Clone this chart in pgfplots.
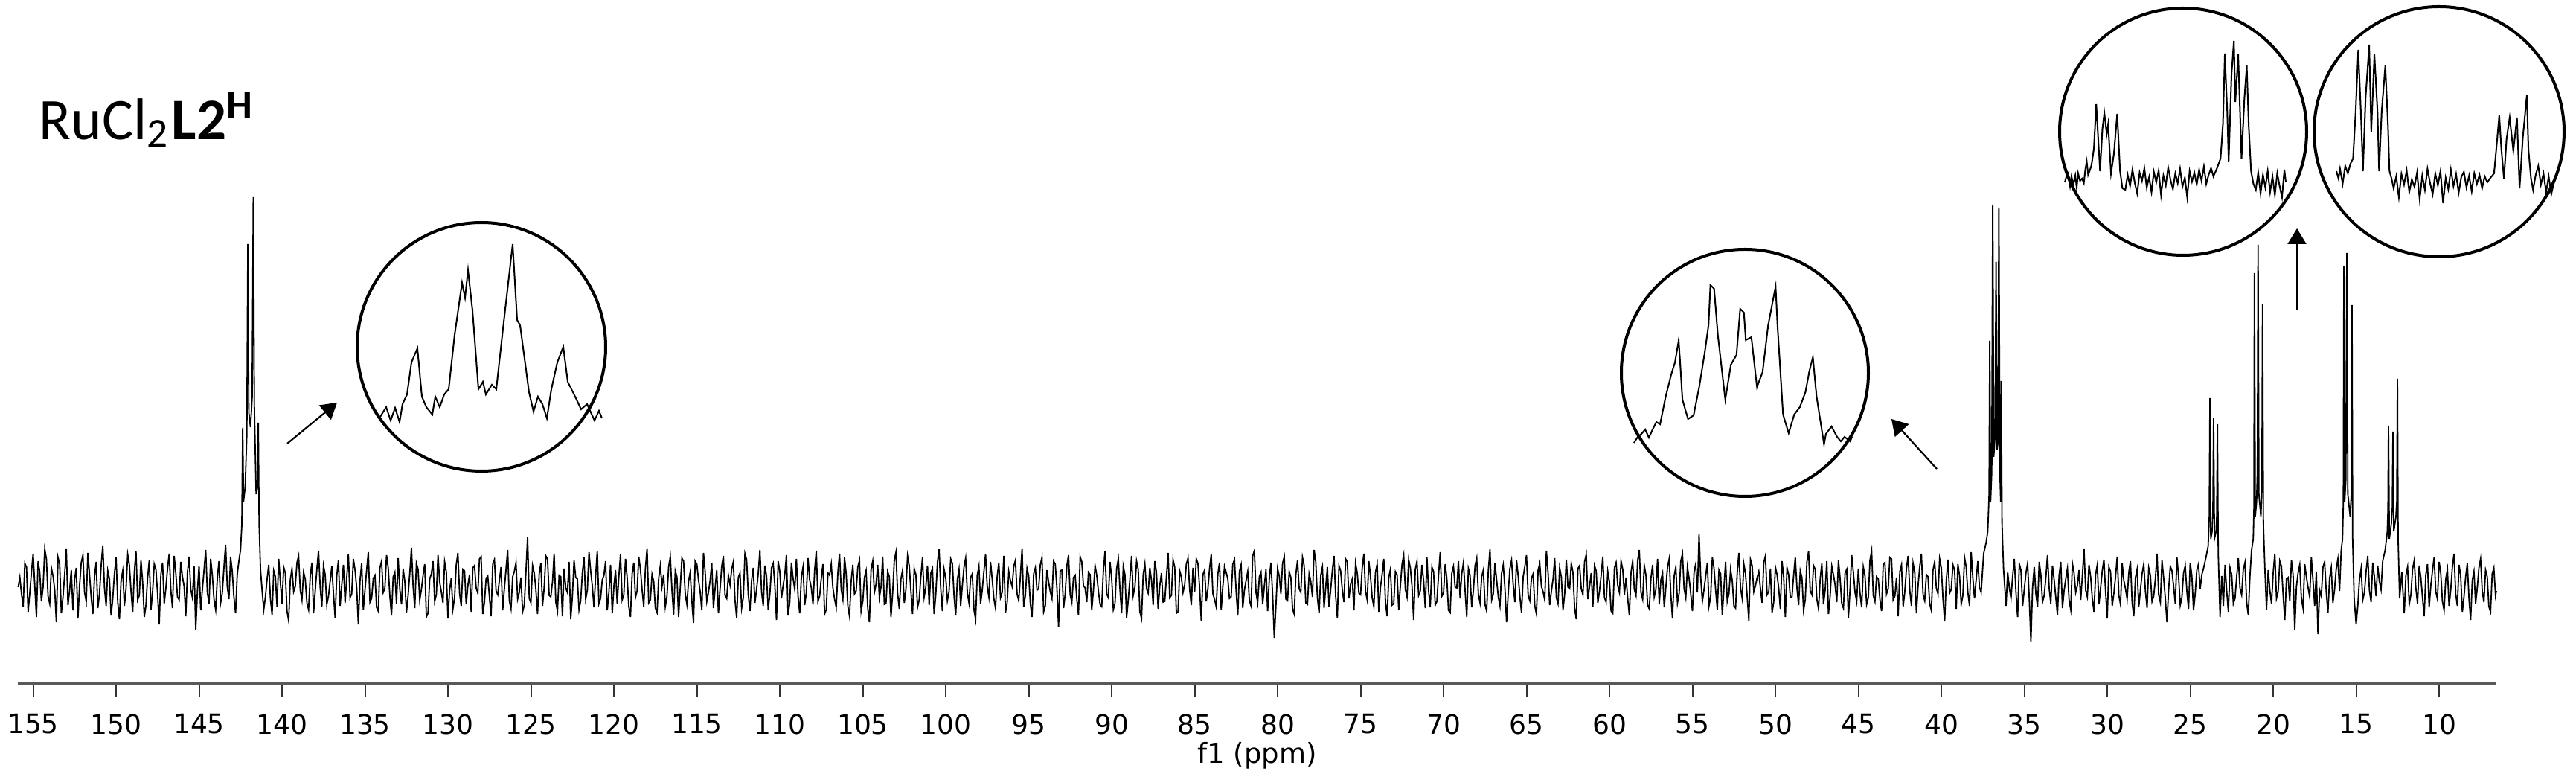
\documentclass[border=0pt]{standalone}
\usepackage{pgfplots}
\pgfplotsset{compat=1.18}
\usepackage{fontspec}
\setmainfont{DejaVu Sans}
\newfontfamily\ticksfont{DejaVu Sans}
\newfontfamily\titlefont{Carlito}
\usetikzlibrary{arrows.meta}
\pgfplotsset{inset/.style={scale only axis, anchor=south west, hide axis, x dir=reverse, clip=false}}
\begin{document}
\begin{tikzpicture}
\useasboundingbox (0,0) rectangle (346.2pt,104.4pt);
\begin{axis}[
  at={(2.45pt,12.6pt)}, anchor=south west,
  scale only axis, width=333.05pt, height=66.8pt,
  xmin=6.55, xmax=155.9, ymin=-134, ymax=534,
  x dir=reverse,
  axis x line*=bottom, hide y axis,
  axis line style={line width=0.33pt, draw=black!65, -},
  xtick={10,15,...,155},
  tick align=outside, major tick length=1.8pt,
  tick style={line width=0.2pt, draw=black!80},
  xticklabel style={font=\ticksfont\fontsize{3.6}{4}\selectfont, yshift=1.2pt},
  /pgf/number format/assume math mode=true,
  xlabel={f1 (ppm)},
  xlabel style={font=\ticksfont\fontsize{3.7}{4}\selectfont, at={(axis description cs:0.5,0)}, anchor=north, inner sep=0pt, yshift=-7.7pt},
  clip=false,
]
\addplot[black, line width=0.18pt] coordinates {
(155.9,-5)(155.8,8)(155.7,-14)(155.6,-31)(155.5,27)(155.4,22)(155.3,-38)(155.2,-12)(155.1,15)(155.0,40)(154.9,-3)
(154.8,-45)(154.7,30)(154.6,15)(154.5,-24)(154.4,-5)(154.3,46)(154.2,33)(154.1,-17)(154.0,-27)(153.9,21)
(153.8,10)(153.7,-8)(153.6,-52)(153.5,35)(153.4,26)(153.3,-40)(153.2,-18)(153.1,12)(153.0,47)(152.9,-29)
(152.8,-9)(152.7,18)(152.6,-36)(152.5,5)(152.4,21)(152.3,-47)(152.2,-3)(152.1,28)(152.0,38)(151.9,-12)
(151.8,-24)(151.7,41)(151.6,12)(151.5,-19)(151.4,-41)(151.3,9)(151.2,29)(151.1,-33)(151.0,-14)(150.9,24)
(150.8,51)(150.7,-6)(150.6,-30)(150.5,17)(150.4,6)(150.3,-43)(150.2,-20)(150.1,13)(150.0,35)(149.9,-25)
(149.8,-48)(149.7,4)(149.6,17)(149.5,-30)(149.4,-7)(149.3,39)(149.2,25)(149.1,-10)(149.0,-38)(148.9,16)
(148.8,43)(148.7,-22)(148.6,-16)(148.5,31)(148.4,2)(148.3,-45)(148.2,-29)(148.1,8)(148.0,31)(147.9,-35)
(147.8,-11)(147.7,26)(147.6,19)(147.5,-14)(147.4,-55)(147.3,12)(147.2,28)(147.1,-27)(147.0,-6)(146.9,20)
(146.8,40)(146.7,-9)(146.6,-33)(146.5,37)(146.4,14)(146.3,-18)(146.2,-22)(146.1,29)(146.0,9)(145.9,-4)
(145.8,-44)(145.7,15)(145.6,36)(145.5,-8)(145.4,-19)(145.3,23)(145.2,-62)(145.1,-11)(145.0,24)(144.9,-36)
(144.8,-8)(144.7,18)(144.6,45)(144.5,-12)(144.4,-27)(144.3,33)(144.2,11)(144.1,-21)(144.0,-35)(143.9,7)
(143.8,30)(143.7,-26)(143.6,-13)(143.5,22)(143.4,52)(143.3,-4)(143.2,-21)(143.1,36)(143.0,16)(142.9,-18)
(142.8,-40)
(142.7,12)(142.6,30)(142.5,45)(142.42,80)(142.37,209)(142.32,110)(142.22,130)(142.12,200)(142.06,456)(142.0,230)
(141.9,210)(141.8,250)(141.73,519)(141.67,240)(141.56,120)(141.48,130)(141.43,216)(141.38,80)(141.3,20)(141.2,-10)(141.1,-35)
(141.0,-18)(140.9,6)(140.8,25)(140.7,-20)(140.6,-42)(140.5,17)(140.4,9)(140.3,-31)(140.2,33)(140.1,2)(140.0,-27)(139.9,22)(139.8,14)(139.7,-37)(139.6,-50)(139.5,5)(139.4,20)(139.3,-11)(139.2,-4)(139.1,28)
(139.0,37)(138.9,-9)(138.8,-22)(138.7,15)(138.6,6)(138.5,-26)(138.4,-35)(138.3,10)(138.2,28)(138.1,-40)(138.0,-10)(137.9,19)(137.8,44)(137.7,-5)(137.6,-31)(137.5,24)(137.4,12)(137.3,-28)(137.2,-17)(137.1,3)
(137.0,23)(136.9,-14)(136.8,-46)(136.7,11)(136.6,31)(136.5,-30)(136.4,-2)(136.3,25)(136.2,-26)(136.1,8)(136.0,39)(135.9,-19)(135.8,-14)(135.7,33)(135.6,18)(135.5,-6)(135.4,-55)(135.3,4)(135.2,27)(135.1,-35)
(135.0,-9)(134.9,18)(134.8,42)(134.7,-25)(134.6,-20)(134.5,7)(134.4,11)(134.3,-32)(134.2,-37)(134.1,21)(134.0,30)(133.9,-12)(133.8,-6)(133.7,38)(133.6,21)(133.5,-17)(133.4,-43)(133.3,9)(133.2,15)(133.1,-27)
(133.0,34)(132.9,-8)(132.8,-28)(132.7,20)(132.6,3)(132.5,-39)(132.4,-16)(132.3,14)(132.2,48)(132.1,-3)(132.0,-33)(131.9,27)(131.8,19)(131.7,-22)(131.6,-8)(131.5,11)(131.4,26)(131.3,-45)(131.2,-40)(131.1,6)
(131.0,13)(130.9,30)(130.8,-24)(130.7,-15)(130.6,38)(130.5,2)(130.4,-11)(130.3,-26)(130.2,29)(130.1,16)(130.0,-47)(129.9,-9)(129.8,7)(129.7,-34)(129.6,-19)(129.5,25)(129.4,41)(129.3,-13)(129.2,-30)(129.1,19)
(129.0,17)(128.9,-28)(128.8,-3)(128.7,12)(128.6,-38)(128.5,21)(128.4,24)(128.3,-6)(128.2,-13)(128.1,33)(128.0,36)(127.9,-41)(127.8,-25)(127.7,7)(127.6,10)(127.5,-18)(127.4,-44)(127.3,26)(127.2,32)(127.1,-10)
(127.0,-15)(126.9,4)(126.8,22)(126.7,-36)(126.6,-7)(126.5,19)(126.4,45)(126.3,-23)(126.2,-34)(126.1,9)(126.0,16)(125.9,28)(125.8,-21)(125.7,-12)(125.6,8)(125.5,-38)(125.4,-29)(125.3,15)(125.2,62)(125.1,-20)
(125.0,-26)(124.9,24)(124.8,14)(124.7,-8)(124.6,-41)(124.5,13)(124.4,27)(124.3,-30)(124.2,-5)(124.1,37)(124.0,33)(123.9,-16)(123.8,-18)(123.7,2)(123.6,40)(123.5,-25)(123.4,-37)(123.3,11)(123.2,9)(123.1,-44)
(123.0,20)(122.9,-6)(122.8,-12)(122.7,29)(122.6,-48)(122.5,-17)(122.4,31)(122.3,8)(122.2,6)(122.1,-35)(122.0,-23)(121.9,14)(121.8,35)(121.7,-21)(121.6,-9)(121.5,42)(121.4,17)(121.3,-3)(121.2,-32)(121.1,10)
(121.0,43)(120.9,-27)(120.8,-20)(120.7,5)(120.6,11)(120.5,30)(120.4,-36)(120.3,-12)(120.2,25)(120.1,-40)(120.0,-4)(119.9,18)(119.8,-27)(119.7,9)(119.6,39)(119.5,-22)(119.4,-15)(119.3,33)(119.2,8)(119.1,-31)
(119.0,-45)(118.9,13)(118.8,28)(118.7,-19)(118.6,-10)(118.5,36)(118.4,19)(118.3,-8)(118.2,-31)(118.1,20)(118.0,47)(117.9,-26)(117.8,-22)(117.7,12)(117.6,3)(117.5,-33)(117.4,-39)(117.3,7)(117.2,24)(117.1,-4)
(117.0,12)(116.9,-31)(116.8,-17)(116.7,22)(116.6,36)(116.5,-9)(116.4,-42)(116.3,17)(116.2,9)(116.1,-45)(116.0,-6)(115.9,34)(115.8,30)(115.7,-14)(115.6,-28)(115.5,3)(115.4,15)(115.3,-24)(115.2,-53)(115.1,30)
(115.0,26)(114.9,5)(114.8,-11)(114.7,-36)(114.6,41)(114.5,16)(114.4,-24)(114.3,-12)(114.2,4)(114.1,27)(114.0,-33)(113.9,-7)(113.8,18)(113.7,-40)(113.6,-7)(113.5,23)(113.4,37)(113.3,-16)(113.2,-20)(113.1,11)
(113.0,-2)(112.9,19)(112.8,29)(112.7,-22)(112.6,-46)(112.5,8)(112.4,14)(112.3,-33)(112.2,-19)(112.1,40)(112.0,32)(111.9,-15)(111.8,-37)(111.7,4)(111.6,21)(111.5,-26)(111.4,-8)(111.3,13)(111.2,45)(111.1,-11)
(111.0,-30)(110.9,24)(110.8,10)(110.7,-35)(110.6,-14)(110.5,21)(110.4,27)(110.3,-2)(110.2,-49)(110.1,30)(110.0,16)(109.9,-20)(109.8,-3)(109.7,12)(109.6,38)(109.5,-43)(109.4,-25)(109.3,28)(109.2,7)(109.1,-8)
(109.0,33)(108.9,-17)(108.8,-40)(108.7,9)(108.6,22)(108.5,-29)(108.4,-12)(108.3,34)(108.2,5)(108.1,-6)(108.0,-28)(107.9,18)(107.8,44)(107.7,-24)(107.6,-17)(107.5,7)(107.4,26)(107.3,-41)(107.2,-35)(107.1,14)
(107.0,11)(106.9,26)(106.8,-6)(106.7,-21)(106.6,-32)(106.5,15)(106.4,40)(106.3,-8)(106.2,-21)(106.1,35)(106.0,13)(105.9,-30)(105.8,-44)(105.7,3)(105.6,25)(105.5,-14)(105.4,-10)(105.3,22)(105.2,31)(105.1,-37)
(105.0,-24)(104.9,8)(104.8,17)(104.7,-33)(104.6,-52)(104.5,19)(104.4,30)(104.3,-12)(104.2,-1)(104.1,25)(104.0,-19)(103.9,-5)(103.8,36)(103.7,-28)(103.6,-27)(103.5,16)(103.4,9)(103.3,-45)(103.2,-13)(103.1,31)
(103.0,42)(102.9,-13)(102.8,-34)(102.7,6)(102.6,18)(102.5,-26)(102.4,-8)(102.3,37)(102.2,24)(102.1,-10)(102.0,-41)(101.9,20)(101.8,12)(101.7,-32)(101.6,-22)(101.5,9)(101.4,35)(101.3,-18)(101.2,-5)(101.1,24)
(101.0,-29)(100.9,14)(100.8,20)(100.7,-41)(100.6,-15)(100.5,28)(100.4,46)(100.3,-7)(100.2,-37)(100.1,19)(100.0,8)(99.9,-23)(99.8,-11)(99.7,33)(99.6,27)(99.5,-16)(99.4,-43)(99.3,5)(99.2,19)(99.1,-30)
(99.0,-3)(98.9,22)(98.8,34)(98.7,-12)(98.6,-26)(98.5,8)(98.4,13)(98.3,-35)(98.2,-48)(98.1,11)(98.0,23)(97.9,-27)(97.8,-9)(97.7,16)(97.6,39)(97.5,-4)(97.4,-18)(97.3,29)(97.2,6)(97.1,-20)
(97.0,-33)(96.9,9)(96.8,28)(96.7,-19)(96.6,-12)(96.5,37)(96.4,-39)(96.3,-26)(96.2,16)(96.1,4)(96.0,-4)(95.9,23)(95.8,31)(95.7,-14)(95.6,-23)(95.5,10)(95.4,47)(95.3,-31)(95.2,-16)(95.1,20)
(95.0,10)(94.9,-27)(94.8,-45)(94.7,13)(94.6,21)(94.5,-9)(94.4,-7)(94.3,25)(94.2,35)(94.1,-38)(94.0,-30)(93.9,18)(93.8,2)(93.7,-11)(93.6,-20)(93.5,30)(93.4,26)(93.3,-6)(93.2,-58)(93.1,17)
(93.0,18)(92.9,-33)(92.8,-14)(92.7,24)(92.6,38)(92.5,-15)(92.4,-25)(92.3,8)(92.2,11)(92.1,-21)(92.0,-42)(91.9,36)(91.8,29)(91.7,-3)(91.6,-6)(91.5,-25)(91.4,15)(91.3,12)(91.2,-36)(91.1,-9)
(91.0,24)(90.9,11)(90.8,-10)(90.7,-28)(90.6,-31)(90.5,17)(90.4,43)(90.3,-14)(90.2,-19)(90.1,29)(90.0,7)(89.9,-35)(89.8,-27)(89.7,20)(89.6,33)(89.5,-8)(89.4,-40)(89.3,23)(89.2,12)(89.1,-46)
(89.0,-22)(88.9,6)(88.8,37)(88.7,-16)(88.6,-5)(88.5,30)(88.4,19)(88.3,-38)(88.2,-47)(88.1,12)(88.0,26)(87.9,-7)(87.8,-13)(87.7,21)(87.6,4)(87.5,-29)(87.4,30)(87.3,15)(87.2,-34)(87.1,-3)
(87.0,14)(86.9,-25)(86.8,-24)(86.7,9)(86.6,41)(86.5,-19)(86.4,-16)(86.3,32)(86.2,22)(86.1,-40)(86.0,-38)(85.9,17)(85.8,9)(85.7,-12)(85.6,-2)(85.5,26)(85.4,34)(85.3,-8)(85.2,-29)(85.1,21)
(85.0,-11)(84.9,33)(84.8,27)(84.7,-6)(84.6,-50)(84.5,12)(84.4,18)(84.3,-24)(84.2,-7)(84.1,20)(84.0,39)(83.9,-14)(83.8,-21)(83.7,-31)(83.6,13)(83.5,28)(83.4,-35)(83.3,-4)(83.2,23)(83.1,15)
(83.0,6)(82.9,-20)(82.8,-18)(82.7,26)(82.6,32)(82.5,-9)(82.4,-43)(82.3,16)(82.2,25)(82.1,-33)(82.0,-9)(81.9,4)(81.8,16)(81.7,-23)(81.6,-30)(81.5,37)(81.4,44)(81.3,-12)(81.2,-26)(81.1,9)
(81.0,15)(80.9,-28)(80.8,-4)(80.7,19)(80.6,-37)(80.5,6)(80.4,28)(80.3,-15)(80.2,-73)(80.1,-30)(80.0,20)(79.9,10)(79.8,-14)(79.7,27)(79.6,36)(79.5,-21)(79.4,-23)(79.3,16)(79.2,8)(79.1,-34)
(79.0,-41)(78.9,12)(78.8,31)(78.7,-7)(78.6,-12)(78.5,35)(78.4,24)(78.3,-26)(78.2,-28)(78.1,13)(78.0,3)(77.9,-18)(77.8,45)(77.7,29)(77.6,-19)(77.5,-40)(77.4,11)(77.3,22)(77.2,-33)(77.1,-5)
(77.0,22)(76.9,-31)(76.8,-8)(76.7,18)(76.6,37)(76.5,-17)(76.4,-46)(76.3,24)(76.2,17)(76.1,-9)(76.0,-25)(75.9,33)(75.8,29)(75.7,-20)(75.6,-1)(75.5,6)(75.4,-36)(75.3,27)(75.2,14)(75.1,-13)
(75.0,-15)(74.9,21)(74.8,40)(74.7,-11)(74.6,-22)(74.5,30)(74.4,9)(74.3,-19)(74.2,-31)(74.1,15)(74.0,26)(73.9,-38)(73.8,-5)(73.7,12)(73.6,33)(73.5,-24)(73.4,-44)(73.3,8)(73.2,19)(73.1,-29)
(73.0,-27)(72.9,16)(72.8,12)(72.7,-35)(72.6,-3)(72.5,26)(72.4,38)(72.3,-8)(72.2,-18)(72.1,32)(72.0,21)(71.9,-4)(71.8,-49)(71.7,19)(71.6,30)(71.5,-16)(71.4,-10)(71.3,25)(71.2,4)(71.1,-33)
(71.0,35)(70.9,-10)(70.8,-32)(70.7,22)(70.6,16)(70.5,-29)(70.4,-24)(70.3,11)(70.2,42)(70.1,-17)(70.0,-13)(69.9,26)(69.8,7)(69.7,-36)(69.6,-39)(69.5,14)(69.4,23)(69.3,-5)(69.2,-6)(69.1,30)
(69.0,-20)(68.9,13)(68.8,28)(68.7,-9)(68.6,-45)(68.5,20)(68.4,11)(68.3,-32)(68.2,-9)(68.1,24)(68.0,34)(67.9,-14)(67.8,-26)(67.7,9)(67.6,18)(67.5,-28)(67.4,-37)(67.3,17)(67.2,46)(67.1,-22)
(67.0,-14)(66.9,27)(66.8,5)(66.7,-18)(66.6,-30)(66.5,14)(66.4,25)(66.3,-6)(66.2,-52)(66.1,-13)(66.0,20)(65.9,31)(65.8,-2)(65.7,-25)(65.6,31)(65.5,10)(65.4,-17)(65.3,-39)(65.2,9)(65.1,23)
(65.0,38)(64.9,-16)(64.8,-23)(64.7,7)(64.6,13)(64.5,-30)(64.4,-41)(64.3,18)(64.2,27)(64.1,-4)(64.0,-11)(63.9,-22)(63.8,44)(63.7,15)(63.6,-29)(63.5,-11)(63.4,6)(63.3,34)(63.2,-19)(63.1,-27)
(63.0,21)(62.9,9)(62.8,-36)(62.7,-14)(62.6,32)(62.5,-5)(62.4,-7)(62.3,27)(62.2,15)(62.1,-33)(62.0,-48)(61.9,20)(61.8,24)(61.7,-7)(61.6,-15)(61.5,29)(61.4,39)(61.3,-21)(61.2,-4)(61.1,14)
(61.0,-31)(60.9,24)(60.8,17)(60.7,-26)(60.6,-10)(60.5,11)(60.4,36)(60.3,-19)(60.2,-25)(60.1,16)(60.0,2)(59.9,-37)(59.8,-40)(59.7,21)(59.6,28)(59.5,-3)(59.4,-12)(59.3,30)(59.2,19)(59.1,-15)
(59.0,8)(58.9,-20)(58.8,-43)(58.7,15)(58.6,30)(58.5,-8)(58.4,-16)(58.3,31)(58.2,45)(58.1,-12)(58.0,-21)(57.9,24)(57.8,11)(57.7,-29)(57.6,-34)(57.5,7)(57.4,25)(57.3,-18)(57.2,-8)(57.1,33)
(57.0,-28)(56.9,5)(56.8,14)(56.7,-32)(56.6,-5)(56.5,22)(56.4,33)(56.3,-15)(56.2,-47)(56.1,10)(56.0,22)(55.9,-26)(55.8,-13)(55.7,30)(55.6,40)(55.5,-7)(55.4,-19)(55.3,22)(55.2,7)(55.1,-14)
(55.0,-37)(54.9,16)(54.8,26)(54.7,-12)(54.6,66)(54.5,8)(54.4,-24)(54.3,-8)(54.2,10)(54.1,28)(54.0,-30)(53.9,-18)(53.8,35)(53.7,21)(53.6,-9)(53.5,-35)(53.4,18)(53.3,13)(53.2,-42)(53.1,-6)
(53.0,29)(52.9,-24)(52.8,-14)(52.7,19)(52.6,4)(52.5,-30)(52.4,-33)(52.3,14)(52.2,41)(52.1,-6)(52.0,-20)(51.9,26)(51.8,13)(51.7,-17)(51.6,-50)(51.5,32)(51.4,24)(51.3,-11)(51.2,-3)(51.1,8)
(51.0,16)(50.9,-7)(50.8,-26)(50.7,28)(50.6,37)(50.5,-15)(50.4,-11)(50.3,20)(50.2,-39)(50.1,-25)(50.0,22)(49.9,12)(49.8,-6)(49.7,-34)(49.6,30)(49.5,9)(49.4,-45)(49.3,21)(49.2,12)(49.1,-19)
(49.0,-18)(48.9,11)(48.8,35)(48.7,-6)(48.6,-29)(48.5,17)(48.4,8)(48.3,-36)(48.2,-22)(48.1,29)(48.0,43)(47.9,-10)(47.8,-15)(47.7,24)(47.6,19)(47.5,-21)(47.4,-34)(47.3,6)(47.2,27)(47.1,-28)
(47.0,-9)(46.9,30)(46.8,-41)(46.7,-17)(46.6,23)(46.5,12)(46.4,-2)(46.3,-25)(46.2,31)(46.1,7)(46.0,-27)(45.9,-33)(45.8,14)(45.7,19)(45.6,-46)(45.5,-8)(45.4,38)(45.3,15)(45.2,-12)(45.1,-24)
(45.0,20)(44.9,-13)(44.8,-32)(44.7,22)(44.6,10)(44.5,-28)(44.4,-19)(44.3,31)(44.2,44)(44.1,-16)(44.0,-24)(43.9,9)(43.8,6)(43.7,-21)(43.6,-37)(43.5,26)(43.4,28)(43.3,-14)(43.2,-7)(43.1,35)
(43.0,33)(42.9,-22)(42.8,-17)(42.7,8)(42.6,-44)(42.5,16)(42.4,25)(42.3,-31)(42.2,-11)(42.1,20)(42.0,37)(41.9,-9)(41.8,-30)(41.7,27)(41.6,15)(41.5,-40)(41.4,-3)(41.3,23)(41.2,40)(41.1,-15)
(41.0,-23)(40.9,12)(40.8,9)(40.7,-27)(40.6,-36)(40.5,18)(40.4,29)(40.3,-6)(40.2,-14)(40.1,33)(40.0,21)(39.9,-20)(39.8,-51)(39.7,4)(39.6,32)(39.5,-13)(39.4,-8)(39.3,25)(39.2,18)(39.1,-34)
(39.0,26)(38.9,10)(38.8,-28)(38.7,-16)(38.6,35)(38.5,22)(38.4,-12)(38.3,-30)(38.2,42)(38.1,8)(38.0,-20)(37.9,5)
(37.8,30)(37.7,-5)(37.6,-12)(37.45,40)(37.3,55)(37.2,70)(37.12,120)(37.08,326)(37.03,110)(36.96,150)(36.90,509)
(36.84,170)(36.76,200)(36.70,432)(36.64,180)(36.58,190)(36.53,505)(36.47,150)(36.42,110)(36.39,272)(36.34,80)
(36.25,20)(36.1,-30)(36.0,15)(35.9,-6)
(35.8,-20)(35.7,10)(35.6,33)(35.5,-12)(35.4,-45)(35.3,26)(35.2,18)(35.1,-30)(35.0,-8)(34.9,14)(34.8,27)(34.7,-20)(34.6,-78)(34.5,-5)(34.4,22)(34.3,-14)(34.2,-31)(34.1,29)(34.0,12)(33.9,-25)
(33.8,-16)(33.7,8)(33.6,38)(33.5,-6)(33.4,-27)(33.3,24)(33.2,5)(33.1,-19)(33.0,-42)(32.9,11)(32.8,29)(32.7,-33)(32.6,-10)(32.5,6)(32.4,20)(32.3,-22)(32.2,-35)(32.1,27)(32.0,14)(31.9,-12)
(31.8,-3)(31.7,18)(31.6,-22)(31.5,10)(31.4,47)(31.3,-9)(31.2,-18)(31.1,25)(31.0,9)(30.9,-20)(30.8,-38)(30.7,12)(30.6,25)(30.5,-28)(30.4,-6)(30.3,17)(30.2,32)(30.1,-11)(30.0,-47)(29.9,22)
(29.8,16)(29.7,-30)(29.6,-13)(29.5,9)(29.4,36)(29.3,-16)(29.2,-28)(29.1,27)(29.0,4)(28.9,-7)(28.8,-21)(28.7,15)(28.6,30)(28.5,-26)(28.4,-44)(28.3,8)(28.2,19)(28.1,-31)(28.0,-9)(27.9,13)
(27.8,26)(27.7,-10)(27.6,-33)(27.5,21)(27.4,11)(27.3,-24)(27.2,-17)(27.1,6)(27.0,40)(26.9,-15)(26.8,-25)(26.7,31)(26.6,7)(26.5,-20)(26.4,-52)(26.3,-8)(26.2,23)(26.1,17)(26.0,-4)(25.9,-27)
(25.8,35)(25.7,9)(25.6,-29)(25.5,-18)(25.4,14)(25.3,24)(25.2,-11)(25.1,-34)(25.0,28)(24.9,10)(24.8,-36)(24.7,-14)(24.6,18)(24.5,26)(24.4,-7)(24.3,12)
(24.2,20)(24.05,35)(23.92,50)(23.85,90)(23.81,249)(23.76,60)(23.68,70)(23.63,100)(23.59,222)(23.54,60)
(23.44,70)(23.40,90)(23.36,214)(23.31,40)(23.2,-45)(23.1,10)(23.0,-30)
(22.9,25)(22.8,-10)(22.7,-38)(22.6,21)(22.5,12)(22.4,-27)(22.3,-20)(22.2,9)(22.1,34)(22.0,-6)(21.9,-15)(21.8,19)(21.7,28)(21.6,-25)(21.5,-42)
(21.4,10)(21.3,45)(21.2,60)(21.16,100)(21.13,417)(21.08,90)(21.0,110)(20.95,150)(20.91,455)(20.86,120)
(20.74,90)(20.68,130)(20.64,375)(20.59,80)(20.5,20)(20.4,-35)
(20.3,18)(20.2,-9)(20.1,-27)(20.0,14)(19.9,40)(19.8,-20)(19.7,-11)(19.6,30)(19.5,23)(19.4,-15)(19.3,-49)(19.2,6)(19.1,8)(19.0,-24)(18.9,31)(18.8,12)(18.7,-62)(18.6,-5)(18.5,14)(18.4,25)
(18.3,-20)(18.2,-33)(18.1,26)(18.0,9)(17.9,-5)(17.8,-18)(17.7,35)(17.6,4)(17.5,-30)(17.4,16)(17.3,-68)(17.2,-9)(17.1,-17)(17.0,22)(16.9,29)(16.8,-12)(16.7,-39)(16.6,7)(16.5,21)(16.4,-26)
(16.3,-8)(16.2,20)(16.1,33)
(16.0,-10)(15.9,45)(15.82,60)(15.77,110)(15.74,426)(15.69,110)(15.62,140)(15.56,444)(15.50,120)(15.36,90)
(15.29,120)(15.25,374)(15.21,60)(15.12,-20)(15.0,-55)
(14.9,-30)(14.8,5)(14.7,20)(14.6,-22)(14.5,-12)(14.4,16)(14.3,37)(14.2,-9)(14.1,-25)(14.0,28)(13.9,9)(13.8,-17)(13.7,24)(13.6,3)(13.5,-8)
(13.4,30)(13.25,45)(13.12,70)(13.08,100)(13.05,212)(13.0,60)(12.88,80)(12.82,100)(12.78,204)(12.73,70)
(12.6,90)(12.55,110)(12.51,275)(12.47,60)(12.38,-20)(12.25,15)
(12.1,-40)(12.0,11)(11.9,22)(11.8,-28)(11.7,-15)(11.6,19)(11.5,31)(11.4,-6)(11.3,-27)(11.2,24)(11.1,8)(11.0,-19)(10.9,-44)(10.8,12)(10.7,26)(10.6,-32)(10.5,-3)(10.4,17)(10.3,35)(10.2,-11)
(10.1,-21)(10.0,29)(9.9,14)(9.8,-24)(9.7,-36)(9.6,6)(9.5,19)(9.4,-30)(9.3,-9)(9.2,22)(9.1,40)(9.0,-14)(8.9,-30)(8.8,25)(8.7,11)(8.6,-38)(8.5,-18)(8.4,9)(8.3,27)(8.2,-20)
(8.1,-49)(8.0,4)(7.9,16)(7.8,-27)(7.7,-6)(7.6,21)(7.5,33)(7.4,-10)(7.3,-25)(7.2,18)(7.1,9)(7.0,-31)(6.9,-38)(6.8,13)(6.7,21)(6.6,-16)(6.55,-10)
};
\end{axis}
% inset 1 (142 ppm)
\begin{axis}[inset, at={(51.1pt,44.4pt)}, width=29.8pt, height=30pt,
  xmin=141.13, xmax=142.62, ymin=-40, ymax=260]
\addplot[black, line width=0.2pt] coordinates {
(142.62,0)(142.58,13)(142.55,-5)(142.52,12)(142.49,-7)(142.47,17)(142.44,30)(142.41,73)(142.37,92)(142.34,27)
(142.31,13)(142.27,3)(142.25,27)(142.22,13)(142.19,30)(142.16,37)(142.12,110)(142.07,180)(142.05,160)(142.03,197)
(142.00,143)(141.96,37)(141.93,47)(141.91,30)(141.87,43)(141.84,37)(141.79,127)(141.73,232)(141.70,130)(141.68,123)
(141.62,33)(141.59,7)(141.56,27)(141.53,17)(141.50,-2)(141.47,37)(141.43,73)(141.39,94)(141.36,47)(141.31,27)
(141.27,10)(141.23,17)(141.18,-5)(141.15,8)(141.13,-2)
};
\end{axis}
% inset 2 (37 ppm)
\begin{axis}[inset, at={(219.6pt,40.7pt)}, width=29.3pt, height=30pt,
  xmin=36.15, xmax=37.32, ymin=-40, ymax=260]
\addplot[black, line width=0.2pt] coordinates {
(37.32,2)(37.30,10)(37.28,14)(37.26,20)(37.24,9)(37.22,20)(37.20,30)(37.18,27)(37.15,64)(37.12,94)
(37.10,110)(37.08,140)(37.06,60)(37.03,34)(37.00,39)(36.97,77)(36.94,124)(36.92,160)(36.91,214)(36.89,209)
(36.87,147)(36.83,60)(36.80,107)(36.77,120)(36.75,182)(36.73,177)(36.72,140)(36.69,144)(36.66,77)(36.63,97)
(36.60,160)(36.56,212)(36.55,160)(36.52,40)(36.49,15)(36.46,40)(36.43,50)(36.40,70)(36.38,97)(36.36,117)
(36.34,64)(36.30,0)(36.29,14)(36.26,24)(36.23,10)(36.21,4)(36.19,10)(36.16,4)(36.15,10)
};
\end{axis}
% inset 3 (23.5 and 21 ppm)
\begin{axis}[inset, at={(277.5pt,74.4pt)}, width=29.7pt, height=28pt,
  xmin=19.83, xmax=24.47, ymin=-60, ymax=220]
\addplot[black, line width=0.2pt] coordinates {
(24.47,-5)(24.44,2)(24.40,7)(24.36,-10)(24.33,3)(24.29,-8)(24.25,4)(24.22,-12)(24.19,7)(24.15,-3)
(24.11,0)(24.07,-6)(24.04,12)(24.01,23)(23.98,5)(23.95,10)(23.91,18)(23.86,40)(23.81,100)(23.73,10)
(23.68,67)(23.64,88)(23.59,60)(23.56,73)(23.50,7)(23.44,33)(23.37,87)(23.31,10)(23.26,-13)
(23.20,-15)(23.15,5)(23.10,-10)(23.05,12)(23.00,-6)(22.95,-20)(22.90,8)(22.85,-3)(22.80,14)(22.75,-12)
(22.70,2)(22.65,-18)(22.60,9)(22.55,-5)(22.50,11)(22.45,-22)(22.40,4)(22.35,-9)(22.30,15)(22.25,-2)
(22.20,-14)(22.15,7)(22.10,-6)(22.05,13)(22.00,-11)(21.95,1)(21.90,-25)(21.85,10)(21.80,-4)(21.75,8)
(21.70,-8)(21.65,12)(21.60,-3)(21.55,16)(21.50,-7)(21.45,5)(21.40,14)(21.35,3)
(21.28,13)(21.20,27)(21.15,73)(21.11,168)(21.06,90)(21.03,23)(20.97,140)(20.92,185)(20.89,103)(20.83,167)
(20.80,107)(20.76,27)(20.70,107)(20.65,152)(20.61,73)(20.56,10)(20.51,-7)
(20.46,-15)(20.41,8)(20.36,-20)(20.31,5)(20.26,-12)(20.21,10)(20.16,-18)(20.11,3)(20.06,-22)(20.01,7)
(19.96,-10)(19.91,-25)(19.86,12)(19.83,-5)
};
\end{axis}
% inset 4 (15.5 and 13 ppm)
\begin{axis}[inset, at={(314.0pt,74.4pt)}, width=29.3pt, height=28pt,
  xmin=11.99, xmax=16.18, ymin=-57, ymax=223]
\addplot[black, line width=0.2pt] coordinates {
(16.18,13)(16.14,3)(16.11,16)(16.06,-4)(16.01,20)(15.96,10)(15.91,23)(15.86,30)(15.81,93)(15.76,176)
(15.71,93)(15.67,13)(15.62,110)(15.55,183)(15.51,66)(15.45,170)(15.39,93)(15.36,13)(15.31,93)(15.24,155)
(15.19,76)(15.16,13)(15.12,3)
(15.08,-10)(15.03,6)(14.98,-22)(14.93,9)(14.88,-5)(14.83,14)(14.78,-15)(14.73,2)(14.68,-8)(14.63,11)
(14.58,-25)(14.53,7)(14.48,-12)(14.43,16)(14.38,-3)(14.33,-18)(14.28,10)(14.23,-6)(14.18,13)(14.13,-30)
(14.08,4)(14.03,-11)(13.98,15)(13.93,-7)(13.88,9)(13.83,-16)(13.78,5)(13.73,12)(13.68,-9)(13.63,7)
(13.58,-14)(13.53,10)(13.48,-4)(13.43,8)(13.38,-10)(13.33,6)(13.28,-2)(13.22,4)
(13.15,10)(13.09,56)(13.05,88)(13.01,43)(12.96,3)(12.91,56)(12.85,85)(12.78,40)(12.71,85)(12.66,-10)
(12.60,56)(12.52,115)(12.49,43)(12.44,3)
(12.40,-12)(12.35,8)(12.30,20)(12.25,-5)(12.20,10)(12.15,-15)(12.10,6)(12.05,-18)(12.00,-2)
};
\end{axis}
% circles
\draw[line width=0.4pt] (64.7pt,57.8pt) circle (16.7pt);
\draw[line width=0.4pt] (234.5pt,54.3pt) circle (16.6pt);
\draw[line width=0.4pt] (293.4pt,86.7pt) circle (16.6pt);
\draw[line width=0.4pt] (327.8pt,86.7pt) circle (16.8pt);
% arrows
\draw[line width=0.22pt, -{Triangle[length=2.1pt,width=2.5pt]}] (38.6pt,44.8pt) -- (45.3pt,50.3pt);
\draw[line width=0.22pt, -{Triangle[length=2.1pt,width=2.5pt]}] (260.3pt,41.4pt) -- (254.2pt,48.1pt);
\draw[line width=0.22pt, -{Triangle[length=2.1pt,width=2.5pt]}] (308.7pt,62.7pt) -- (308.7pt,73.7pt);
% title
\node[anchor=base west, font=\titlefont\fontsize{7.9}{9}\selectfont, inner sep=0pt] at (5.1pt,85.6pt)
  {RuCl\textsubscript{2}\textbf{L2}\textsuperscript{\textbf{H}}};
\end{tikzpicture}
\end{document}
